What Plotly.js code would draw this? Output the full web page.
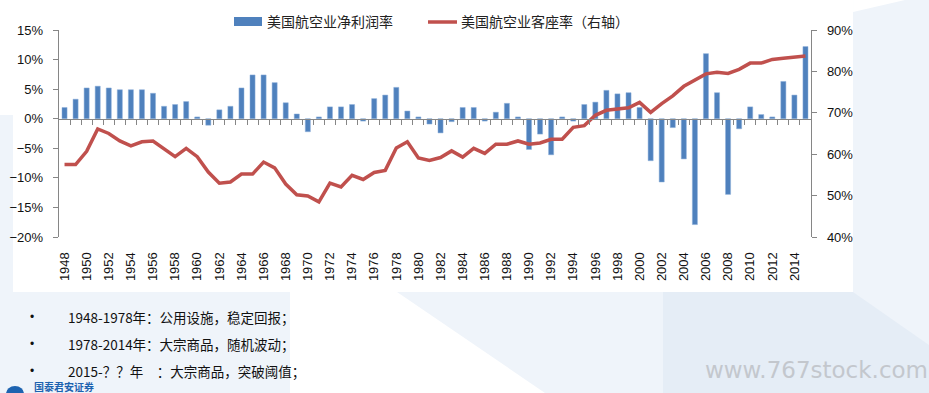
<!DOCTYPE html>
<html>
<head>
<meta charset="utf-8">
<script src="https://cdn.plot.ly/plotly-3.0.1.min.js"></script>
<style>html,body{margin:0;padding:0;background:#eff4fa;}#chart{width:929px;height:393px;}</style>
</head>
<body>
<div id="chart"></div>
<script>
// ---- data ----
const years = [1948,1949,1950,1951,1952,1953,1954,1955,1956,1957,1958,1959,1960,1961,1962,1963,1964,1965,1966,1967,1968,1969,1970,1971,1972,1973,1974,1975,1976,1977,1978,1979,1980,1981,1982,1983,1984,1985,1986,1987,1988,1989,1990,1991,1992,1993,1994,1995,1996,1997,1998,1999,2000,2001,2002,2003,2004,2005,2006,2007,2008,2009,2010,2011,2012,2013,2014,2015];
const netMargin = [1.9,3.3,5.2,5.5,5.2,4.9,4.9,4.9,4.3,2.1,2.4,2.9,0.3,-1.1,1.5,2.1,5.2,7.4,7.4,6.1,2.7,0.8,-2.2,0.3,2.0,2.0,2.4,-0.4,3.4,4.0,5.3,1.3,0.3,-0.9,-2.4,-0.5,1.9,1.9,-0.4,1.1,2.6,0.3,-5.2,-2.6,-6.1,0.3,-0.4,2.4,2.8,4.8,4.2,4.4,1.9,-7.1,-10.7,-1.5,-6.8,-17.9,11.0,4.4,-12.8,-1.7,2.0,0.7,0.3,6.3,4.0,12.2];
const loadFactor = [57.5,57.5,60.7,66.1,65.0,63.2,62.0,63.0,63.2,61.4,59.4,61.4,59.4,55.7,53.0,53.3,55.2,55.2,58.1,56.7,52.8,50.2,49.9,48.5,53.0,52.1,54.9,53.9,55.6,56.1,61.5,63.0,59.1,58.5,59.2,60.8,59.3,61.4,60.2,62.4,62.4,63.2,62.4,62.7,63.6,63.6,66.5,66.9,69.4,70.6,70.9,71.2,72.5,70.1,72.2,74.1,76.4,78.0,79.4,79.8,79.5,80.5,82.0,82.0,82.9,83.2,83.4,83.7];
const xTickLabels = ["1948","1950","1952","1954","1956","1958","1960","1962","1964","1966","1968","1970","1972","1974","1976","1978","1980","1982","1984","1986","1988","1990","1992","1994","1996","1998","2000","2002","2004","2006","2008","2010","2012","2014"];
const seriesNames = ["美国航空业净利润率", "美国航空业客座率（右轴）"];
const notes = ["1948-1978年：公用设施，稳定回报；", "1978-2014年：大宗商品，随机波动；", "2015-？？年　：大宗商品，突破阈值；"];
const watermark = "www.767stock.com";
const footerText = "国泰君安证券";
const leftRange = [-20, 15];
const rightRange = [40, 90];

// ---- layout helpers (pixel -> paper) ----
const W = 929, H = 393, mL = 59, mR = 118, mT = 30, mB = 156;
const pw = W - mL - mR, ph = H - mT - mB;
const px = x => (x - mL) / pw;
const py = y => (H - mB - y) / ph;
const poly = pts => 'M' + pts.map(p => px(p[0]).toFixed(4) + ',' + py(p[1]).toFixed(4)).join(' L') + ' Z';

const xRange = [years[0] - 0.5, years[years.length - 1] + 0.5];
const boundaries = years.slice(0, -1).map(v => v + 0.5);
const font = "Liberation Sans, Arial, sans-serif";
const cjk = "Noto Sans CJK SC, sans-serif";
const axisGrey = "#868686";

const traces = [
  {
    type: 'bar', x: years, y: netMargin, name: seriesNames[0],
    xaxis: 'x', yaxis: 'y', width: 0.46,
    marker: {color: '#4F81BD', line: {color: '#8FB0DA', width: 0.5}},
    showlegend: false
  },
  {
    type: 'scatter', mode: 'lines', x: years, y: loadFactor, name: seriesNames[1],
    xaxis: 'x2', yaxis: 'y2',
    line: {color: '#C0504D', width: 3.5},
    showlegend: false
  }
];

const shapes = [
  // slide background pieces
  {type: 'rect', xref: 'paper', yref: 'paper', x0: px(13), x1: px(853), y0: py(292), y1: py(0), fillcolor: '#ffffff', line: {width: 0}, layer: 'below'},
  {type: 'rect', xref: 'paper', yref: 'paper', x0: px(0), x1: px(13), y0: py(115), y1: py(0), fillcolor: '#ffffff', line: {width: 0}, layer: 'below'},
  {type: 'path', xref: 'paper', yref: 'paper', path: poly([[290,292],[397,292],[545,393],[290,393]]), fillcolor: '#ffffff', line: {width: 0}, layer: 'below'},
  {type: 'path', xref: 'paper', yref: 'paper', path: poly([[663,292],[853,292],[929,345],[929,393],[663,393]]), fillcolor: '#e5edf6', line: {width: 0}, layer: 'below'},
  {type: 'path', xref: 'paper', yref: 'paper', path: poly([[853,0],[905,0],[853,12]]), fillcolor: '#ffffff', line: {width: 0}, layer: 'below'},
  // custom legend
  {type: 'rect', xref: 'paper', yref: 'paper', x0: px(234), x1: px(262), y0: py(26), y1: py(17), fillcolor: '#4F81BD', line: {width: 0}},
  {type: 'line', xref: 'paper', yref: 'paper', x0: px(428), x1: px(457), y0: py(22), y1: py(22), line: {color: '#C0504D', width: 3.5}},
  // footer logo circle
  {type: 'circle', xref: 'paper', yref: 'paper', x0: px(6), x1: px(24), y0: py(402), y1: py(386), fillcolor: '#1d63b0', line: {width: 0}}
];

const annotations = [
  {xref: 'paper', yref: 'paper', x: px(265), y: py(21), xanchor: 'left', yanchor: 'middle', showarrow: false, text: seriesNames[0], font: {family: cjk, size: 14, color: '#222'}},
  {xref: 'paper', yref: 'paper', x: px(459), y: py(21), xanchor: 'left', yanchor: 'middle', showarrow: false, text: seriesNames[1], font: {family: cjk, size: 14, color: '#222'}},
  {xref: 'paper', yref: 'paper', x: px(703), y: py(370), xanchor: 'left', yanchor: 'middle', showarrow: false, text: watermark, font: {family: 'DejaVu Sans, sans-serif', size: 23, color: '#c3c7cd'}},
  {xref: 'paper', yref: 'paper', x: px(32), y: py(386), xanchor: 'left', yanchor: 'middle', showarrow: false, text: '<b>' + footerText + '</b>', font: {family: cjk, size: 10, color: '#1d63b0'}}
];
const noteY = [317, 344, 371];
notes.forEach((t, i) => {
  annotations.push({xref: 'paper', yref: 'paper', x: px(32), y: py(noteY[i]), xanchor: 'center', yanchor: 'middle', showarrow: false, text: '•', font: {family: font, size: 12, color: '#111'}});
  annotations.push({xref: 'paper', yref: 'paper', x: px(66), y: py(noteY[i]), xanchor: 'left', yanchor: 'middle', showarrow: false, text: t, font: {family: cjk, size: 13.5, color: '#111'}});
});

const layout = {
  width: W, height: H,
  margin: {l: mL, r: mR, t: mT, b: mB, pad: 0},
  paper_bgcolor: '#eff4fa',
  plot_bgcolor: 'rgba(0,0,0,0)',
  showlegend: false,
  bargap: 0.5,
  xaxis: {
    range: xRange, domain: [0, 1], anchor: 'y',
    tickmode: 'array', tickvals: xTickLabels.map(Number), ticktext: xTickLabels,
    tickangle: -90, ticks: 'outside', ticklen: 9, tickcolor: 'rgba(0,0,0,0)',
    showline: false, showgrid: false, zeroline: false,
    tickfont: {family: font, size: 13, color: '#111'}
  },
  xaxis2: {
    range: xRange, overlaying: 'x', anchor: 'free',
    position: (0 - leftRange[0]) / (leftRange[1] - leftRange[0]),
    tickmode: 'array', tickvals: boundaries, ticks: 'outside', ticklen: 5, tickcolor: axisGrey,
    showticklabels: false, showline: true, linecolor: axisGrey, linewidth: 1.3,
    showgrid: false, zeroline: false
  },
  yaxis: {
    range: leftRange, dtick: 5, tick0: 0, ticksuffix: '%', anchor: 'x',
    ticks: 'outside', ticklen: 5, tickcolor: axisGrey,
    showline: true, linecolor: axisGrey, linewidth: 1.3,
    showgrid: false, zeroline: false, ticklabelstandoff: 7,
    tickfont: {family: font, size: 13, color: '#111'}
  },
  yaxis2: {
    range: rightRange, dtick: 10, tick0: 40, ticksuffix: '%',
    overlaying: 'y', side: 'right', anchor: 'x2',
    ticks: 'outside', ticklen: 5, tickcolor: axisGrey,
    showline: true, linecolor: axisGrey, linewidth: 1.3,
    showgrid: false, zeroline: false, ticklabelstandoff: 7,
    tickfont: {family: font, size: 13, color: '#111'}
  },
  shapes: shapes,
  annotations: annotations
};

Plotly.newPlot('chart', traces, layout, {displayModeBar: false, staticPlot: true});
</script>
</body>
</html>
